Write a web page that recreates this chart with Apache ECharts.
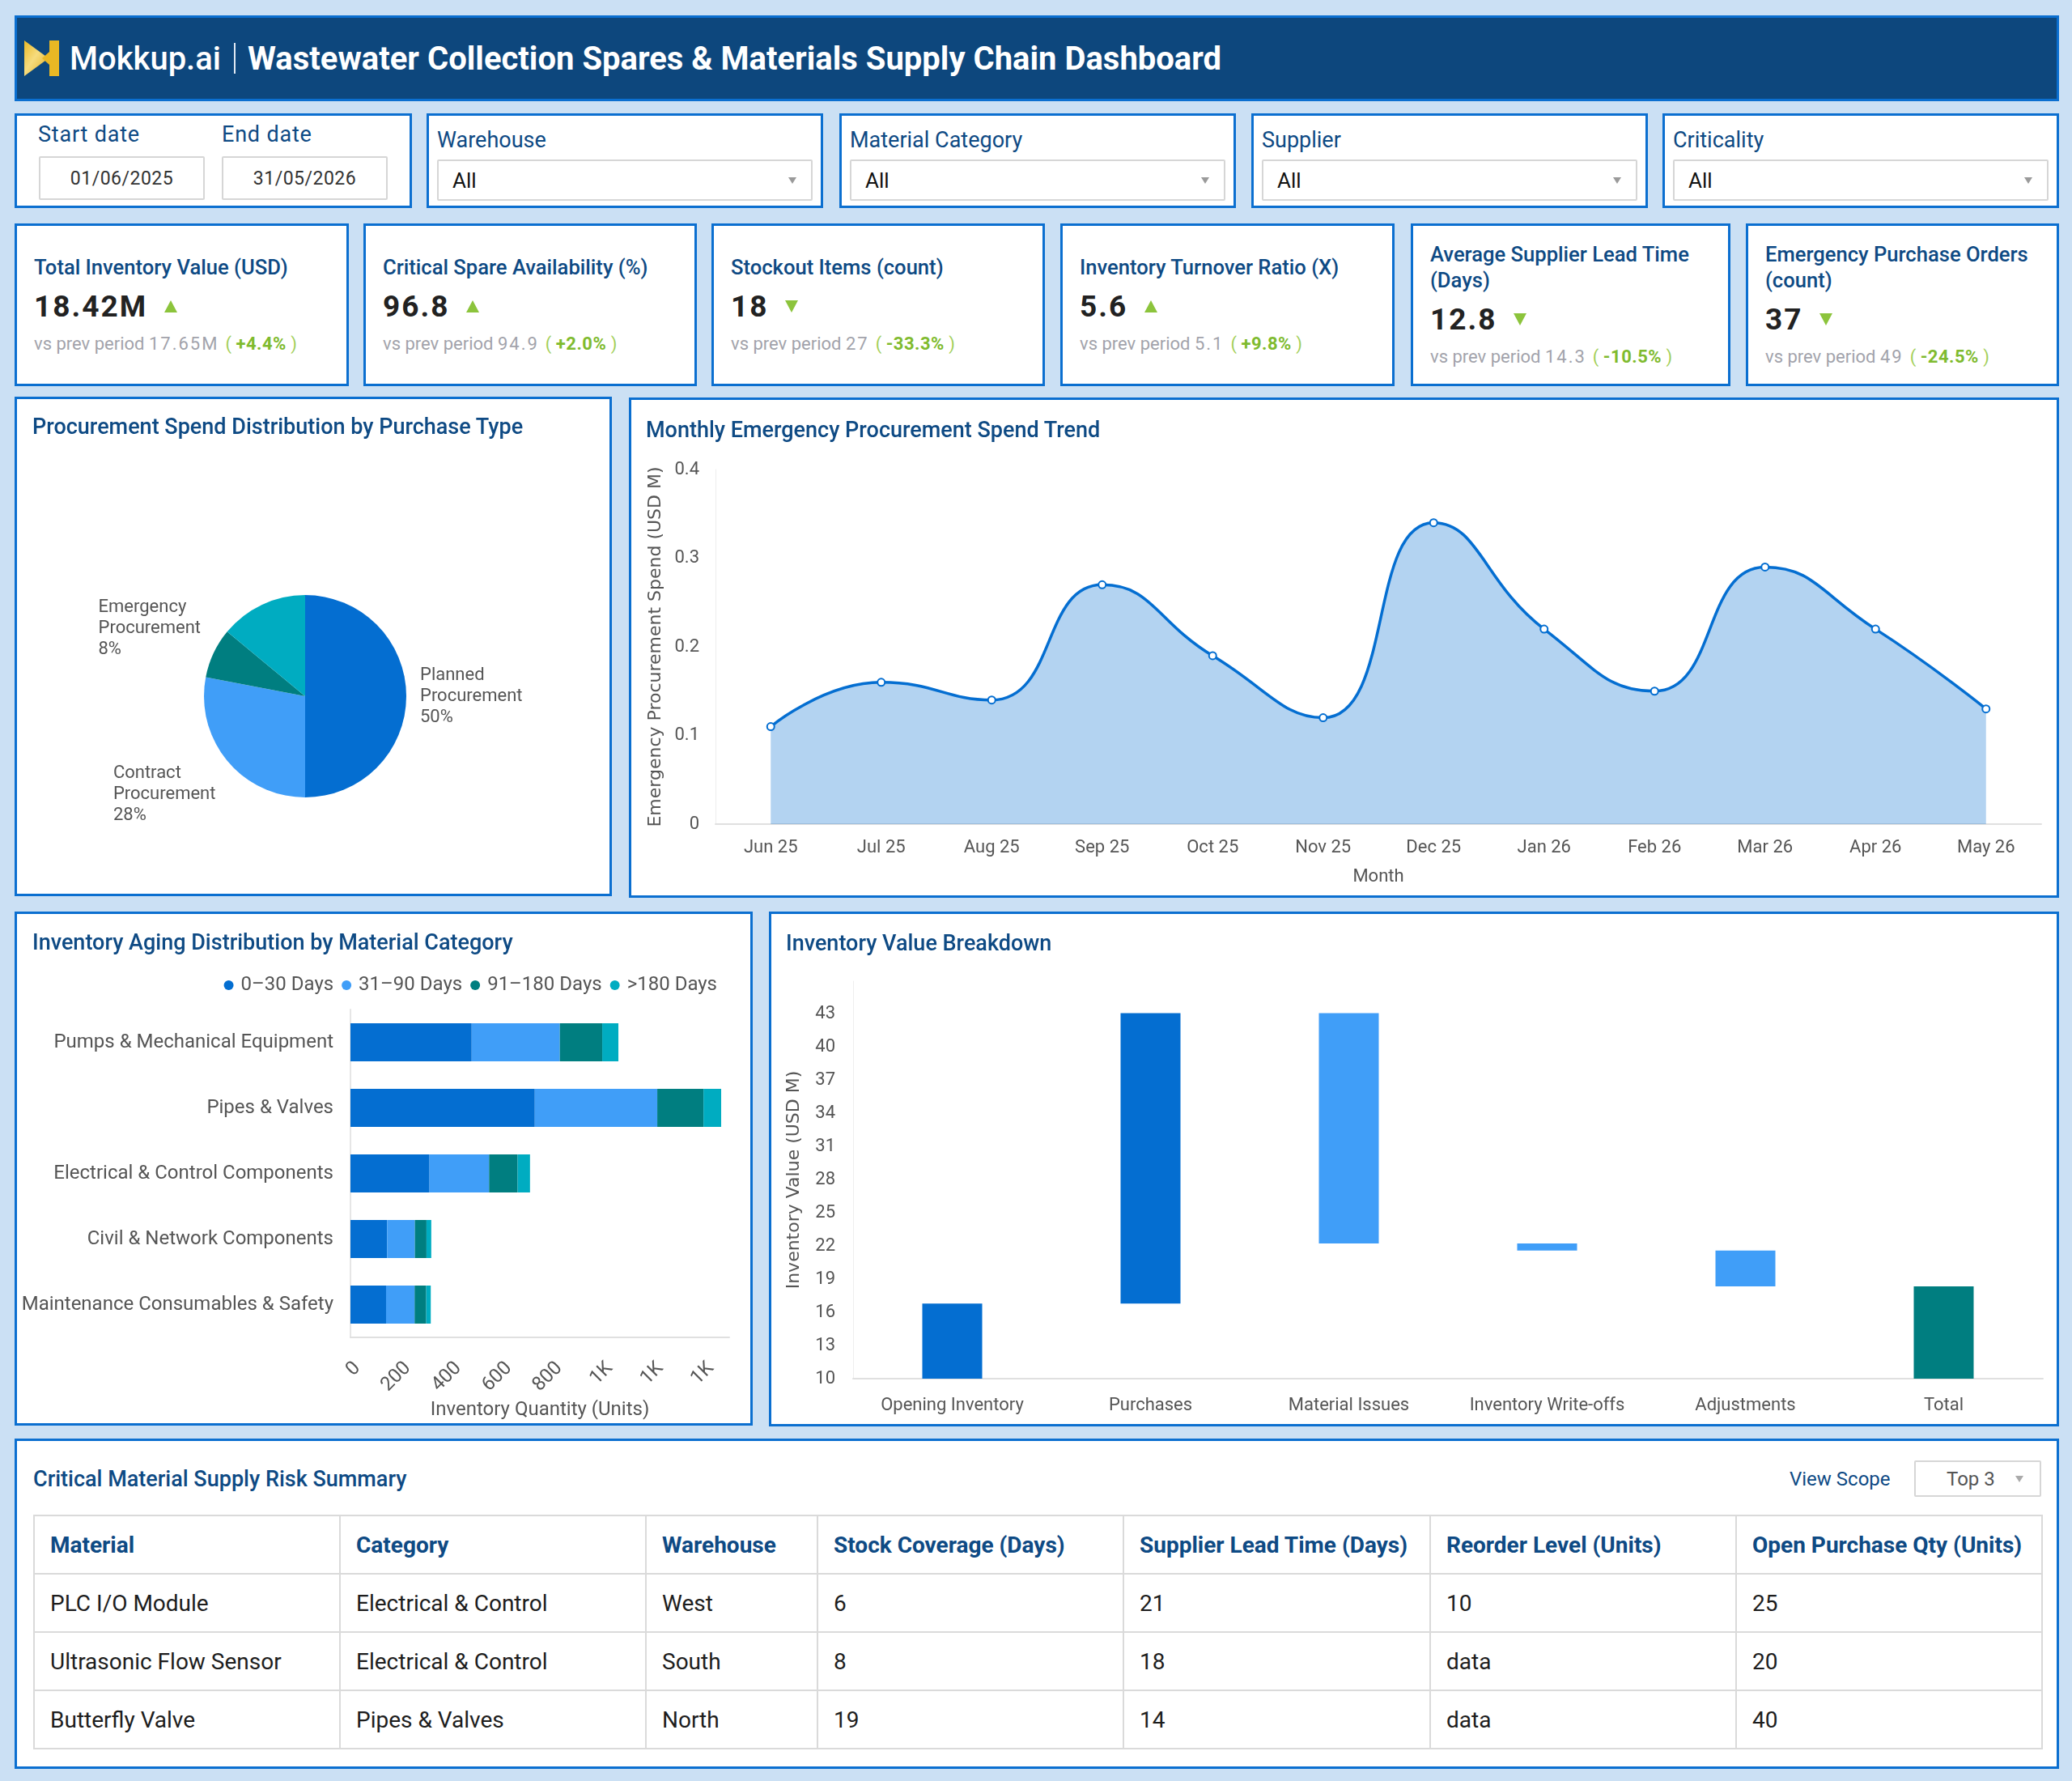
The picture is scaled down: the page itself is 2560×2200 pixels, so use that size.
<!DOCTYPE html>
<html lang="en">
<head>
<meta charset="UTF-8">
<title>Wastewater Collection Spares &amp; Materials Supply Chain Dashboard</title>
<script src="https://cdn.jsdelivr.net/npm/echarts@6.0.0/dist/echarts.min.js"></script>
<style>
  * { box-sizing: border-box; }
  body { margin: 0; width: 2560px; height: 2200px; background: #cbe0f4; font-family: Roboto, sans-serif; position: relative; overflow: hidden; }
  .panel { position: absolute; background: #fff; border: 3px solid #0b6fd0; }
  .header { background: #0d477d; display: flex; align-items: center; color: #fff; }
  .logo { margin-left: 9px; width: 44px; height: 44px; }
  .brand { font-size: 40px; font-weight: 500; margin-left: 12px; }
  .divider { width: 2px; height: 38px; background: #dfe8f2; margin: 0 15px 0 16px; }
  .title { font-size: 40px; font-weight: 700; }
  .flabel { position: absolute; font-size: 27px; color: #0e4a84; line-height: 30px; }
  .flabel.dt { letter-spacing: 0.8px; }
  .fbox { position: absolute; border: 2px solid #d6d6d6; border-radius: 2px; font-size: 23px; color: #333; display: flex; align-items: center; }
  .fbox.date { justify-content: center; letter-spacing: 0.5px; }
  .fbox.sel { padding-left: 17px; font-size: 26px; color: #111; }
  .caret { position: absolute; right: 18px; top: 50%; margin-top: -4px; width: 0; height: 0; border-left: 5px solid transparent; border-right: 5px solid transparent; border-top: 8px solid #9a9a9a; }
  .kpi { display: flex; flex-direction: column; justify-content: center; padding-left: 21px; padding-right: 10px; }
  .kpi .kt { font-size: 25.6px; font-weight: 500; color: #0e4a84; line-height: 32px; }
  .kpi .kv { font-size: 37px; font-weight: 700; color: #222; line-height: 46px; margin-top: 10px; letter-spacing: 2px; display: flex; align-items: center; }
  .tri { display: inline-block; width: 0; height: 0; margin-left: 21px; border-left: 8px solid transparent; border-right: 8px solid transparent; }
  .tri.up { border-bottom: 15px solid #8cc43c; }
  .tri.down { border-top: 15px solid #8cc43c; }
  .kpi .ks { font-size: 22px; color: #a2a3ab; line-height: 30px; margin-top: 8px; }
  .kpi .ks .num { letter-spacing: 2px; }
  .kpi .ks .dl { color: #a3cf5a; margin-left: 8px; }
  .kpi .ks .dl b { color: #7fbb2f; font-weight: 700; letter-spacing: 0.5px; }
  .ctitle { position: absolute; font-size: 27px; font-weight: 500; color: #0e4a84; line-height: 34px; z-index: 2; white-space: nowrap; }
  .chart { position: absolute; left: 0; top: 0; }
  table { position: absolute; left: 20px; top: 91px; width: 2481px; border-collapse: collapse; table-layout: fixed; }
  th, td { border: 2px solid #dadada; height: 72px; padding: 0 19px; text-align: left; font-size: 28px; white-space: nowrap; }
  th { color: #0e4a84; font-weight: 700; }
  td { color: #1d1d1d; }
</style>
</head>
<body>

<div class="panel header" style="left:18px;top:19px;width:2526px;height:106px;">
  <svg class="logo" viewBox="0 0 44 44">
    <defs>
      <linearGradient id="lg" x1="0" y1="0" x2="1" y2="1">
        <stop offset="0" stop-color="#eab825"/>
        <stop offset="0.45" stop-color="#f6dc7e"/>
        <stop offset="1" stop-color="#e2ad1b"/>
      </linearGradient>
    </defs>
    <polygon points="0,0 30,22 0,44" fill="url(#lg)"/>
    <polygon points="31,0 43,0 43,44 31,44 31,30 22,22 31,14" fill="#e9b824"/>
  </svg>
  <div class="brand">Mokkup.ai</div>
  <div class="divider"></div>
  <div class="title">Wastewater Collection Spares &amp; Materials Supply Chain Dashboard</div>
</div>

<div id="filters"></div>
<div id="kpis"></div>

<div class="panel" style="left:18px;top:490px;width:738px;height:617px;">
  <div class="ctitle" style="left:19px;top:17px;">Procurement Spend Distribution by Purchase Type</div>
  <div id="pieChart" class="chart" style="width:732px;height:611px;"></div>
</div>

<div class="panel" style="left:777px;top:491px;width:1767px;height:618px;">
  <div class="ctitle" style="left:18px;top:20px;">Monthly Emergency Procurement Spend Trend</div>
  <div id="areaChart" class="chart" style="width:1761px;height:612px;"></div>
</div>

<div class="panel" style="left:18px;top:1126px;width:912px;height:635px;">
  <div class="ctitle" style="left:19px;top:18px;">Inventory Aging Distribution by Material Category</div>
  <div id="agingChart" class="chart" style="width:906px;height:629px;"></div>
</div>

<div class="panel" style="left:950px;top:1126px;width:1594px;height:636px;">
  <div class="ctitle" style="left:18px;top:19px;">Inventory Value Breakdown</div>
  <div id="waterfallChart" class="chart" style="width:1588px;height:630px;"></div>
</div>

<div class="panel" style="left:18px;top:1777px;width:2526px;height:408px;">
  <div class="ctitle" style="left:20px;top:30px;">Critical Material Supply Risk Summary</div>
  <div class="flabel" style="left:2190px;top:32px;font-size:24px;">View Scope</div>
  <div class="fbox" style="left:2344px;top:24px;width:157px;height:45px;font-size:24px;color:#555;padding-left:38px;">Top 3<span class="caret" style="right:20px;border-top-color:#aaa;"></span></div>
  <table id="riskTable"></table>
</div>

<script>
// ---- filters ----
const filterNames = ['Warehouse', 'Material Category', 'Supplier', 'Criticality'];
const filterValue = 'All';
const startDate = '01/06/2025';
const endDate = '31/05/2026';

// ---- KPI cards ----
const kpiTitles = ['Total Inventory Value (USD)', 'Critical Spare Availability (%)', 'Stockout Items (count)',
  'Inventory Turnover Ratio (X)', 'Average Supplier Lead Time (Days)', 'Emergency Purchase Orders (count)'];
const kpiValues = ['18.42M', '96.8', '18', '5.6', '12.8', '37'];
const kpiPrev = ['17.65M', '94.9', '27', '5.1', '14.3', '49'];
const kpiChange = ['+4.4%', '+2.0%', '-33.3%', '+9.8%', '-10.5%', '-24.5%'];
const kpiArrow = ['up', 'up', 'down', 'up', 'down', 'down'];

// ---- pie ----
const purchaseTypes = ['Planned Procurement', 'Contract Procurement', 'Emergency Procurement', 'Framework Procurement'];
const purchaseShare = [50, 28, 8, 14];

// ---- monthly emergency spend (USD M) ----
const months = ['Jun 25', 'Jul 25', 'Aug 25', 'Sep 25', 'Oct 25', 'Nov 25', 'Dec 25', 'Jan 26', 'Feb 26', 'Mar 26', 'Apr 26', 'May 26'];
const emergencySpend = [0.11, 0.16, 0.14, 0.27, 0.19, 0.12, 0.34, 0.22, 0.15, 0.29, 0.22, 0.13];

// ---- inventory aging (units) ----
const materialCategories = ['Pumps & Mechanical Equipment', 'Pipes & Valves', 'Electrical & Control Components',
  'Civil & Network Components', 'Maintenance Consumables & Safety'];
const agingBuckets = ['0–30 Days', '31–90 Days', '91–180 Days', '>180 Days'];
const aging0to30 = [480, 730, 313, 145, 141];
const aging31to90 = [349, 485, 236, 110, 113];
const aging91to180 = [168, 183, 113, 46, 46];
const agingOver180 = [64, 70, 49, 19, 18];

// ---- waterfall (USD M) ----
const wfSteps = ['Opening Inventory', 'Purchases', 'Material Issues', 'Inventory Write-offs', 'Adjustments', 'Total'];
const wfChanges = [16.8, 26.3, -20.85, -0.65, -3.25];

// ---- risk table ----
const tableHeaders = ['Material', 'Category', 'Warehouse', 'Stock Coverage (Days)', 'Supplier Lead Time (Days)', 'Reorder Level (Units)', 'Open Purchase Qty (Units)'];
const colWidths = [378, 378, 212, 378, 379, 378, 378];
const riskMaterial = ['PLC I/O Module', 'Ultrasonic Flow Sensor', 'Butterfly Valve'];
const riskCategory = ['Electrical & Control', 'Electrical & Control', 'Pipes & Valves'];
const riskWarehouse = ['West', 'South', 'North'];
const riskCoverage = [6, 8, 19];
const riskLeadTime = [21, 18, 14];
const riskReorder = ['10', 'data', 'data'];
const riskOpenQty = [25, 20, 40];

const C_DARK = '#046ed1', C_LIGHT = '#409ef8', C_TEAL = '#007e80', C_CYAN = '#00acc1';
const AXIS_TXT = '#555';

// filters
let fh = '';
fh += '<div class="panel" style="left:18px;top:140px;width:491px;height:117px;">' +
  '<div class="flabel dt" style="left:26px;top:8px;">Start date</div>' +
  '<div class="flabel dt" style="left:253px;top:8px;">End date</div>' +
  '<div class="fbox date" style="left:27px;top:50px;width:205px;height:54px;">' + startDate + '</div>' +
  '<div class="fbox date" style="left:253px;top:50px;width:205px;height:54px;">' + endDate + '</div></div>';
const fLefts = [527, 1037, 1546, 2054];
filterNames.forEach((n, i) => {
  fh += '<div class="panel" style="left:' + fLefts[i] + 'px;top:140px;width:490px;height:117px;">' +
    '<div class="flabel" style="left:10px;top:15px;">' + n + '</div>' +
    '<div class="fbox sel" style="left:10px;top:54px;width:464px;height:51px;">' + filterValue +
    '<span class="caret"></span></div></div>';
});
document.getElementById('filters').innerHTML = fh;

// kpis
const kLefts = [18, 449, 879, 1310, 1743, 2157];
const kWidths = [413, 412, 412, 413, 395, 387];
let kh = '';
kpiTitles.forEach((t, i) => {
  kh += '<div class="panel kpi" style="left:' + kLefts[i] + 'px;top:276px;width:' + kWidths[i] + 'px;height:201px;">' +
    '<div class="kt">' + t + '</div>' +
    '<div class="kv">' + kpiValues[i] + '<span class="tri ' + kpiArrow[i] + '"></span></div>' +
    '<div class="ks">vs prev period <span class="num">' + kpiPrev[i] + '</span><span class="dl">( <b>' + kpiChange[i] + '</b> )</span></div>' +
    '</div>';
});
document.getElementById('kpis').innerHTML = kh;

// table
let th = '<colgroup>' + colWidths.map(w => '<col style="width:' + w + 'px">').join('') + '</colgroup>';
th += '<tr>' + tableHeaders.map(h => '<th>' + h + '</th>').join('') + '</tr>';
riskMaterial.forEach((m, i) => {
  th += '<tr><td>' + m + '</td><td>' + riskCategory[i] + '</td><td>' + riskWarehouse[i] + '</td><td>' + riskCoverage[i] +
    '</td><td>' + riskLeadTime[i] + '</td><td>' + riskReorder[i] + '</td><td>' + riskOpenQty[i] + '</td></tr>';
});
document.getElementById('riskTable').innerHTML = th;

// ---- pie chart ----
// label padding nudges: upper-left label sits higher, lower-left label sits lower
const pieLabelPad = [[0, 0, 0, 0], [68, 0, 0, 0], [0, 0, 50, 0], [0, 0, 0, 0]];
const pieChart = echarts.init(document.getElementById('pieChart'));
pieChart.setOption({
  textStyle: { fontFamily: 'Roboto' },
  color: [C_DARK, C_LIGHT, C_TEAL, C_CYAN],
  series: [{
    type: 'pie',
    center: [356, 367],
    radius: 125,
    startAngle: 90,
    avoidLabelOverlap: false,
    data: purchaseTypes.map((n, i) => ({
      name: n, value: purchaseShare[i],
      label: i === 3 ? { show: false } : { padding: pieLabelPad[i] }
    })),
    label: {
      position: 'outside',
      formatter: p => p.name.split(' ').map(w => '{t|' + w + '}').join('\n') + '\n{t|' + p.percent + '%}',
      rich: { t: { fontSize: 22, lineHeight: 26, color: '#555', fontFamily: 'Roboto', align: 'left' } }
    },
    labelLine: { show: false, length: 12, length2: 0 },
    itemStyle: { borderWidth: 0 }
  }]
});

// ---- area chart ----
const areaChart = echarts.init(document.getElementById('areaChart'));
areaChart.setOption({
  textStyle: { fontFamily: 'Roboto' },
  grid: { left: 104, top: 86, width: 1638, height: 438, outerBoundsMode: 'none' },
  xAxis: {
    type: 'category',
    data: months,
    name: 'Month',
    nameLocation: 'middle',
    nameGap: 54,
    nameMoveOverlap: false,
    nameTextStyle: { fontSize: 22, color: AXIS_TXT },
    axisLine: { lineStyle: { color: '#e0e0e0', width: 2 } },
    axisTick: { show: false },
    axisLabel: { fontSize: 22, color: AXIS_TXT, margin: 18, interval: 0 }
  },
  yAxis: {
    type: 'value',
    min: 0, max: 0.4, interval: 0.1,
    name: 'Emergency Procurement Spend (USD M)',
    nameLocation: 'middle',
    nameGap: 63,
    nameMoveOverlap: false,
    nameTextStyle: { fontSize: 22, color: AXIS_TXT, fontFamily: 'DejaVu Sans' },
    axisLine: { show: true, lineStyle: { color: '#eeeeee', width: 1 } },
    axisTick: { show: false },
    splitLine: { show: false },
    axisLabel: { fontSize: 22, color: AXIS_TXT, margin: 20 }
  },
  series: [{
    type: 'line',
    data: emergencySpend,
    smooth: true,
    symbol: 'emptyCircle',
    symbolSize: 9,
    lineStyle: { color: C_DARK, width: 3.5 },
    itemStyle: { color: C_DARK, borderWidth: 3 },
    areaStyle: { color: C_DARK, opacity: 0.3 }
  }]
});

// ---- aging stacked bar ----
const agingChart = echarts.init(document.getElementById('agingChart'));
const agingSeriesData = [aging0to30, aging31to90, aging91to180, agingOver180];
agingChart.setOption({
  textStyle: { fontFamily: 'Roboto' },
  color: [C_DARK, C_LIGHT, C_TEAL, C_CYAN],
  legend: {
    top: 71, right: 36,
    icon: 'circle', itemWidth: 24, itemHeight: 12, itemGap: 10,
    textStyle: { fontSize: 24, color: AXIS_TXT, padding: [0, 0, 0, -2] },
    data: agingBuckets
  },
  grid: { left: 412, top: 118, width: 468, height: 405, outerBoundsMode: 'none' },
  xAxis: {
    type: 'value',
    min: 0, max: 1500, interval: 200,
    name: 'Inventory Quantity (Units)',
    nameLocation: 'middle',
    nameGap: 78,
    nameMoveOverlap: false,
    nameTextStyle: { fontSize: 24, color: AXIS_TXT },
    axisLine: { show: true, lineStyle: { color: '#e0e0e0', width: 2 } },
    axisTick: { show: false },
    splitLine: { show: false },
    axisLabel: {
      fontSize: 24, color: AXIS_TXT, rotate: 45, margin: 26, verticalAlign: 'top', showMaxLabel: false,
      formatter: v => v >= 1000 ? (v / 1000).toFixed(0) + 'K' : String(v)
    }
  },
  yAxis: {
    type: 'category',
    data: materialCategories,
    inverse: true,
    axisLine: { show: true, lineStyle: { color: '#e6e6e6', width: 2 } },
    axisTick: { show: false },
    axisLabel: { fontSize: 24, color: AXIS_TXT, margin: 21, interval: 0 }
  },
  series: agingBuckets.map((b, i) => ({
    name: b,
    type: 'bar',
    stack: 'aging',
    barWidth: 47,
    data: agingSeriesData[i]
  }))
});

// ---- waterfall ----
const wfBase = [], wfVisible = [], wfColors = [];
let running = 0;
wfChanges.forEach((c, i) => {
  if (i === 0) {
    wfBase.push(0); wfVisible.push(c); wfColors.push(C_DARK);
  } else if (c >= 0) {
    wfBase.push(running); wfVisible.push(c); wfColors.push(C_DARK);
  } else {
    wfBase.push(running + c); wfVisible.push(-c); wfColors.push(C_LIGHT);
  }
  running += c;
});
wfBase.push(0); wfVisible.push(running); wfColors.push(C_TEAL);

const waterfallChart = echarts.init(document.getElementById('waterfallChart'));
waterfallChart.setOption({
  textStyle: { fontFamily: 'Roboto' },
  grid: { left: 101, top: 83, width: 1470, height: 491, outerBoundsMode: 'none' },
  xAxis: {
    type: 'category',
    data: wfSteps,
    axisLine: { lineStyle: { color: '#e0e0e0', width: 2 } },
    axisTick: { show: false },
    axisLabel: { fontSize: 22, color: AXIS_TXT, margin: 22, interval: 0 }
  },
  yAxis: {
    type: 'value',
    min: 10, max: 46, interval: 3,
    name: 'Inventory Value (USD M)',
    nameLocation: 'middle',
    nameGap: 62,
    nameMoveOverlap: false,
    nameTextStyle: { fontSize: 22, color: AXIS_TXT, fontFamily: 'DejaVu Sans' },
    axisLine: { show: true, lineStyle: { color: '#eeeeee', width: 1 } },
    axisTick: { show: false },
    splitLine: { show: false },
    axisLabel: { fontSize: 22, color: AXIS_TXT, margin: 22, showMaxLabel: false }
  },
  series: [
    {
      type: 'bar', stack: 'wf', barWidth: 74,
      itemStyle: { color: 'transparent' },
      data: wfBase
    },
    {
      type: 'bar', stack: 'wf', barWidth: 74,
      data: wfVisible.map((v, i) => ({ value: v, itemStyle: { color: wfColors[i] } }))
    }
  ]
});
</script>
</body>
</html>
